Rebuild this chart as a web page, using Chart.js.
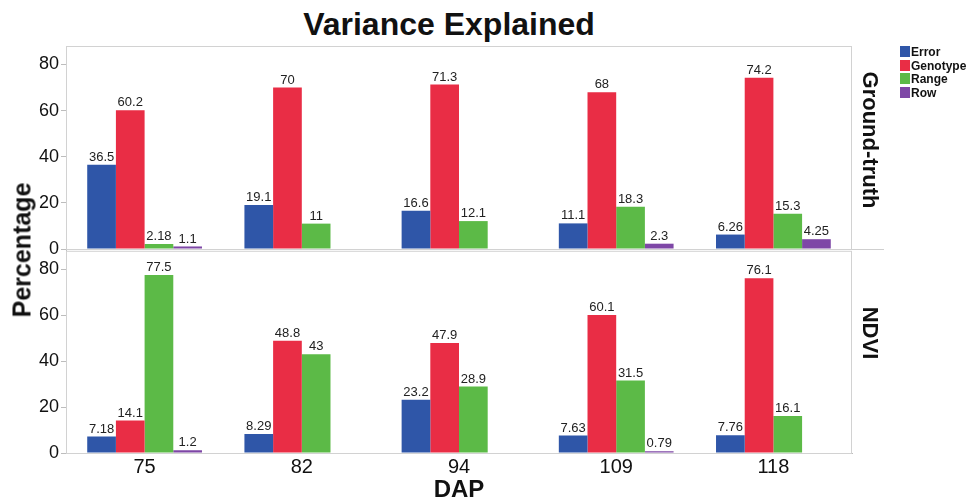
<!DOCTYPE html>
<html>
<head>
<meta charset="utf-8">
<script src="https://cdn.jsdelivr.net/npm/chart.js@4/dist/chart.umd.min.js"></script>
<style>
  body { margin: 0; background: #fff; font-family: "Liberation Sans", Arial, sans-serif; }
  #wrap { position: relative; width: 968px; height: 500px; overflow: hidden; }
  canvas { position: absolute; left: 0; }
  .title { position: absolute; left: 0; width: 898px; top: 6px; text-align: center; font-weight: bold; font-size: 32px; color: #111; }
  .ylab { position: absolute; left: 22px; top: 250px; transform: translate(-50%, -50%) rotate(-90deg); font-weight: bold; font-size: 25px; color: #111; white-space: nowrap; }
  .strip { position: absolute; left: 870px; transform: translate(-50%, -50%) rotate(90deg); font-weight: bold; font-size: 22px; color: #111; white-space: nowrap; }
  .sep { position: absolute; left: 852px; top: 249px; width: 32px; height: 1px; background: #cfcfcf; }
  .legend { position: absolute; left: 900px; top: 46px; font-weight: bold; font-size: 12px; color: #111; }
  .legend div { height: 13.5px; line-height: 13.5px; white-space: nowrap; }
  .legend span { display: inline-block; width: 10px; height: 11px; margin-right: 1px; vertical-align: -1px; }
</style>
</head>
<body>
<div id="wrap">
  <div class="title">Variance Explained</div>
  <canvas id="top" width="968" height="262" style="top:0"></canvas>
  <canvas id="bottom" width="968" height="264" style="top:238px"></canvas>
  <div class="ylab">Percentage</div>
  <div class="strip" style="top:140px">Ground-truth</div>
  <div class="strip" style="top:333px">NDVI</div>
  <div class="sep"></div>
  <div class="legend" id="legend"></div>
</div>
<script>
// Data
const dap = ['75', '82', '94', '109', '118'];
const seriesNames = ['Error', 'Genotype', 'Range', 'Row'];
const seriesColors = ['#2f56a8', '#e92d45', '#5cba47', '#7e47a6'];
const yTicks = [0, 20, 40, 60, 80];

// Ground-truth panel
const gtError = [36.5, 19.1, 16.6, 11.1, 6.26];
const gtGenotype = [60.2, 70, 71.3, 68, 74.2];
const gtRange = [2.18, 11, 12.1, 18.3, 15.3];
const gtRow = [1.1, null, null, 2.3, 4.25];

// NDVI panel
const ndviError = [7.18, 8.29, 23.2, 7.63, 7.76];
const ndviGenotype = [14.1, 48.8, 47.9, 60.1, 76.1];
const ndviRange = [77.5, 43, 28.9, 31.5, 16.1];
const ndviRow = [1.2, null, null, 0.79, null];

// Legend
const legendBox = document.getElementById('legend');
seriesNames.forEach((name, i) => {
  const row = document.createElement('div');
  row.innerHTML = `<span style="background:${seriesColors[i]}"></span>${name}`;
  legendBox.appendChild(row);
});

// Draw value labels above bars
const barLabels = {
  id: 'barLabels',
  afterDatasetsDraw(chart) {
    const ctx = chart.ctx;
    ctx.save();
    ctx.font = '13px "Liberation Sans", Arial, sans-serif';
    ctx.fillStyle = '#222';
    ctx.textAlign = 'center';
    ctx.textBaseline = 'bottom';
    chart.data.datasets.forEach((ds, di) => {
      chart.getDatasetMeta(di).data.forEach((bar, i) => {
        const v = ds.data[i];
        if (v === null || v === undefined) return;
        ctx.fillText(String(v), bar.x, bar.y - 1);
      });
    });
    ctx.restore();
  }
};

// Light grey frame round each panel
const frame = {
  id: 'frame',
  beforeDatasetsDraw(chart) {
    const { ctx, chartArea: a } = chart;
    ctx.save();
    ctx.strokeStyle = '#d2d2d2';
    ctx.lineWidth = 1;
    ctx.strokeRect(a.left + 0.5, a.top + 0.5, a.right - a.left - 1, a.bottom - a.top);
    ctx.restore();
  }
};

function makeDatasets(values) {
  return values.map((data, i) => ({
    label: seriesNames[i],
    data: data,
    backgroundColor: seriesColors[i],
    borderWidth: 0,
    categoryPercentage: 0.73,
    barPercentage: 1.0
  }));
}

function yScale() {
  return {
    min: 0,
    max: 88,
    afterFit: s => { s.width = 66; },
    afterBuildTicks: s => { s.ticks = yTicks.map(v => ({ value: v })); },
    ticks: { padding: 2, color: '#111', font: { size: 18, family: '"Liberation Sans", Arial, sans-serif' } },
    grid: { drawOnChartArea: false, drawTicks: true, tickLength: 5, color: '#bdbdbd' },
    border: { color: '#bdbdbd' }
  };
}

function makeChart(id, values, showX, padding) {
  return new Chart(document.getElementById(id), {
    type: 'bar',
    data: { labels: dap, datasets: makeDatasets(values) },
    options: {
      responsive: false,
      animation: false,
      layout: { padding: padding },
      plugins: { legend: { display: false }, tooltip: { enabled: false } },
      scales: {
        x: {
          display: showX,
          afterFit: s => { if (showX) s.height = 49; },
          ticks: { padding: 2, color: '#111', font: { size: 20, family: '"Liberation Sans", Arial, sans-serif' } },
          grid: { display: false, drawTicks: false },
          border: { color: '#bdbdbd' },
          title: {
            display: true,
            text: 'DAP',
            color: '#111',
            padding: 0,
            font: { size: 24, weight: 'bold', lineHeight: 1, family: '"Liberation Sans", Arial, sans-serif' }
          }
        },
        y: yScale()
      }
    },
    plugins: [frame, barLabels]
  });
}

makeChart('top', [gtError, gtGenotype, gtRange, gtRow], false, { top: 46, bottom: 13, left: 0, right: 116 });
makeChart('bottom', [ndviError, ndviGenotype, ndviRange, ndviRow], true, { top: 12, bottom: 0, left: 0, right: 116 });
</script>
</body>
</html>
